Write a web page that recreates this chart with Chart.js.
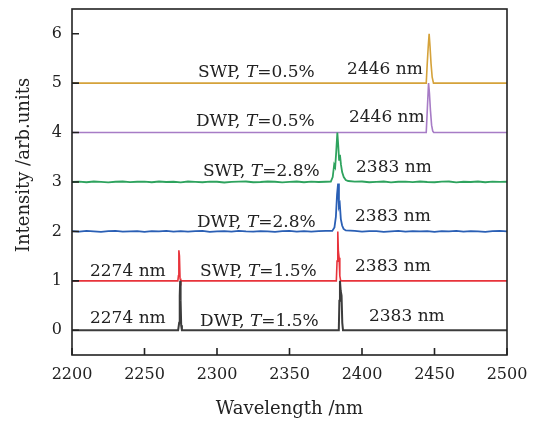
<!DOCTYPE html>
<html>
<head>
<meta charset="utf-8">
<script src="https://cdn.jsdelivr.net/npm/chart.js@4.4.0/dist/chart.umd.min.js"></script>
<style>
    html, body { margin: 0; padding: 0; background: #fff; }
</style>
</head>
<body>
<canvas id="chart" width="538" height="421"></canvas>
<script>
// axis ticks
var xTicks = [2200, 2250, 2300, 2350, 2400, 2450, 2500];
var yTicks = [0, 1, 2, 3, 4, 5, 6];

// vertical offset of every trace
var offsets = { dwp15: 0, swp15: 1, dwp28: 2, swp28: 3, dwp05: 4, swp05: 5 };

// DWP, T=1.5% (peaks 2274 nm and 2383 nm)
var dwp15X = [2200, 2273.2, 2273.9, 2274.3, 2274.6, 2274.9, 2275.3, 2275.8, 2384.0, 2384.4, 2384.8, 2385.3, 2385.9, 2386.4, 2386.9, 2500];
var dwp15Y = [0, 0, 0.15, 0.7, 1.0, 0.6, 0.1, 0, 0, 0.6, 1.0, 0.8, 0.7, 0.15, 0, 0];

// SWP, T=1.5%
var swp15X = [2200, 2273.0, 2273.4, 2273.7, 2274.1, 2274.5, 2275.0, 2382.3, 2382.8, 2383.3, 2383.7, 2384.2, 2384.7, 2385.3, 2500];
var swp15Y = [0, 0, 0.1, 0.62, 0.5, 0.05, 0, 0, 0.4, 1.0, 0.6, 0.47, 0.1, 0, 0];

// noisy baselines share one wavelength grid
var noiseX = [2200, 2205, 2210, 2215, 2220, 2225, 2230, 2235, 2240, 2245, 2250, 2255, 2260, 2265, 2270, 2275, 2280, 2285,
    2290, 2295, 2300, 2305, 2310, 2315, 2320, 2325, 2330, 2335, 2340, 2345, 2350, 2355, 2360, 2365, 2370, 2375,
    2395, 2400, 2405, 2410, 2415, 2420, 2425, 2430, 2435, 2440, 2445, 2450, 2455, 2460, 2465, 2470, 2475, 2480, 2485, 2490, 2495, 2500];

// DWP, T=2.8%
var dwp28Noise = [0.005, -0.005, 0.01, 0, -0.008, 0.005, 0.01, -0.005, 0.003, 0.008, -0.01, 0.005, 0, 0.01, -0.005, 0.008, -0.003, 0.005,
    0.01, -0.008, 0.003, 0.005, -0.005, 0.01, 0, -0.005, 0.008, 0.003, -0.01, 0.005, 0.01, -0.003, 0.005, -0.005, 0.008, 0.01,
    0.01, -0.005, 0.005, 0.008, -0.008, 0.003, 0.01, -0.005, 0.005, 0, 0.008, -0.01, 0.005, 0.003, 0.01, -0.005, 0.008, 0, -0.008, 0.005, 0.01, 0];
var dwp28X = [2379.5, 2381.0, 2382.0, 2382.8, 2383.5, 2384.1, 2384.7, 2385.4, 2386.3, 2387.3, 2388.8];
var dwp28Y = [0.01, 0.08, 0.3, 0.75, 0.97, 0.5, 0.55, 0.25, 0.12, 0.05, 0.02];

// SWP, T=2.8%
var swp28Noise = [0, 0.008, -0.005, 0.01, 0.003, -0.008, 0.005, 0.01, -0.003, 0.005, 0.008, -0.005, 0.01, 0, 0.005, -0.008, 0.01, 0.003,
    -0.005, 0.008, 0.005, -0.01, 0.003, 0.008, 0.01, -0.005, 0, 0.01, 0.005, -0.008, 0.003, 0.01, -0.005, 0.008, 0, 0.005,
    0.008, 0.01, -0.005, 0.003, 0.01, -0.008, 0.005, 0.008, -0.003, 0.01, 0, -0.005, 0.008, 0.01, -0.008, 0.005, 0, 0.01, -0.005, 0.008, 0.003, 0.005];
var swp28X = [2378.5, 2379.8, 2380.8, 2381.5, 2382.2, 2383.0, 2383.7, 2384.2, 2384.8, 2385.5, 2386.3, 2387.4, 2388.8, 2390.5];
var swp28Y = [0.01, 0.1, 0.35, 0.3, 0.6, 1.0, 0.7, 0.45, 0.55, 0.35, 0.2, 0.1, 0.04, 0.02];

// DWP, T=0.5%
var dwp05X = [2200, 2444.3, 2445.1, 2445.9, 2446.5, 2447.2, 2448.0, 2448.8, 2449.5, 2500];
var dwp05Y = [0, 0, 0.5, 1.0, 0.8, 0.45, 0.15, 0.03, 0, 0];

// SWP, T=0.5%
var swp05X = [2200, 2444.3, 2445.0, 2445.7, 2446.3, 2446.9, 2447.6, 2448.4, 2449.3, 2500];
var swp05Y = [0, 0, 0.4, 0.75, 1.0, 0.75, 0.4, 0.12, 0, 0];

// text written next to the traces
var notes = [
    { x: 2286.9, y: 5.22, parts: ['SWP, ', 'T', '=0.5%'] },
    { x: 2389.7, y: 5.28, parts: ['2446 nm'] },
    { x: 2285.5, y: 4.22, parts: ['DWP, ', 'T', '=0.5%'] },
    { x: 2391.0, y: 4.30, parts: ['2446 nm'] },
    { x: 2290.3, y: 3.21, parts: ['SWP, ', 'T', '=2.8%'] },
    { x: 2395.9, y: 3.29, parts: ['2383 nm'] },
    { x: 2286.2, y: 2.18, parts: ['DWP, ', 'T', '=2.8%'] },
    { x: 2395.2, y: 2.31, parts: ['2383 nm'] },
    { x: 2212.4, y: 1.19, parts: ['2274 nm'] },
    { x: 2288.3, y: 1.19, parts: ['SWP, ', 'T', '=1.5%'] },
    { x: 2395.2, y: 1.29, parts: ['2383 nm'] },
    { x: 2212.4, y: 0.24, parts: ['2274 nm'] },
    { x: 2288.3, y: 0.18, parts: ['DWP, ', 'T', '=1.5%'] },
    { x: 2404.8, y: 0.28, parts: ['2383 nm'] }
];

var FONT = '"DejaVu Serif", serif';

function toPoints(xs, ys, off) {
    var pts = [];
    for (var i = 0; i < xs.length; i++) {
        pts.push({ x: xs[i], y: ys[i] + off });
    }
    return pts;
}
function withNoise(noise, xs, ys, off) {
    var pts = toPoints(noiseX, noise, off).concat(toPoints(xs, ys, off));
    pts.sort(function (a, b) { return a.x - b.x; });
    return pts;
}
function trace(pts, color, width) {
    return {
        data: pts,
        borderColor: color,
        borderWidth: width,
        pointRadius: 0,
        tension: 0,
        fill: false
    };
}

var framePlugin = {
    id: 'frame',
    afterDatasetsDraw: function (chart) {
        var ctx = chart.ctx;
        var a = chart.chartArea;
        var xs = chart.scales.x, ys = chart.scales.y;
        ctx.save();
        ctx.strokeStyle = '#222';
        ctx.lineWidth = 1.6;
        ctx.strokeRect(a.left, a.top, a.right - a.left, a.bottom - a.top);
        ctx.beginPath();
        xTicks.forEach(function (v) {
            var px = xs.getPixelForValue(v);
            ctx.moveTo(px, a.bottom);
            ctx.lineTo(px, a.bottom - 7);
        });
        yTicks.forEach(function (v) {
            var py = ys.getPixelForValue(v);
            ctx.moveTo(a.left, py);
            ctx.lineTo(a.left + 7, py);
        });
        ctx.stroke();

        ctx.fillStyle = '#222';
        ctx.textBaseline = 'middle';
        ctx.textAlign = 'left';
        notes.forEach(function (n) {
            var px = xs.getPixelForValue(n.x);
            var py = ys.getPixelForValue(n.y);
            n.parts.forEach(function (p, i) {
                ctx.font = (i == 1 ? 'italic ' : '') + '17px ' + FONT;
                ctx.fillText(p, px, py);
                px += ctx.measureText(p).width;
            });
        });

        // axis titles
        ctx.font = '18px ' + FONT;
        ctx.textAlign = 'center';
        ctx.fillText('Wavelength /nm', (a.left + a.right) / 2, 409);
        ctx.translate(24, 165);
        ctx.rotate(-Math.PI / 2);
        ctx.fillText('Intensity /arb.units', 0, 0);
        ctx.restore();
    }
};

new Chart('chart', {
    type: 'line',
    data: {
        datasets: [
            trace(toPoints(dwp15X, dwp15Y, offsets.dwp15), '#3c3c3c', 2),
            trace(toPoints(swp15X, swp15Y, offsets.swp15), '#e8333b', 1.6),
            trace(withNoise(dwp28Noise, dwp28X, dwp28Y, offsets.dwp28), '#2a5fb5', 1.8),
            trace(withNoise(swp28Noise, swp28X, swp28Y, offsets.swp28), '#2ea35e', 1.8),
            trace(toPoints(dwp05X, dwp05Y, offsets.dwp05), '#a77cc6', 1.6),
            trace(toPoints(swp05X, swp05Y, offsets.swp05), '#d5a23a', 1.6)
        ]
    },
    options: {
        responsive: false,
        animation: false,
        devicePixelRatio: 1,
        layout: { padding: { top: 9, right: 31, left: 0, bottom: 0 } },
        plugins: { legend: { display: false }, tooltip: { enabled: false } },
        scales: {
            x: {
                type: 'linear',
                min: 2200,
                max: 2500,
                grid: { display: false, drawTicks: false },
                border: { display: false },
                afterBuildTicks: function (s) { s.ticks = xTicks.map(function (v) { return { value: v }; }); },
                afterFit: function (s) { s.height = 66; s.paddingLeft = 0; s.paddingRight = 0; },
                ticks: {
                    color: '#222', padding: 10, maxRotation: 0, font: { family: FONT, size: 16 },
                    callback: function (v) { return String(v); }
                }
            },
            y: {
                type: 'linear',
                min: -0.5,
                max: 6.5,
                grid: { display: false, drawTicks: false },
                border: { display: false },
                afterBuildTicks: function (s) { s.ticks = yTicks.map(function (v) { return { value: v }; }); },
                afterFit: function (s) { s.width = 72; s.paddingTop = 0; s.paddingBottom = 0; },
                ticks: { color: '#222', padding: 10, font: { family: FONT, size: 16 } }
            }
        }
    },
    plugins: [framePlugin]
});
</script>
</body>
</html>
